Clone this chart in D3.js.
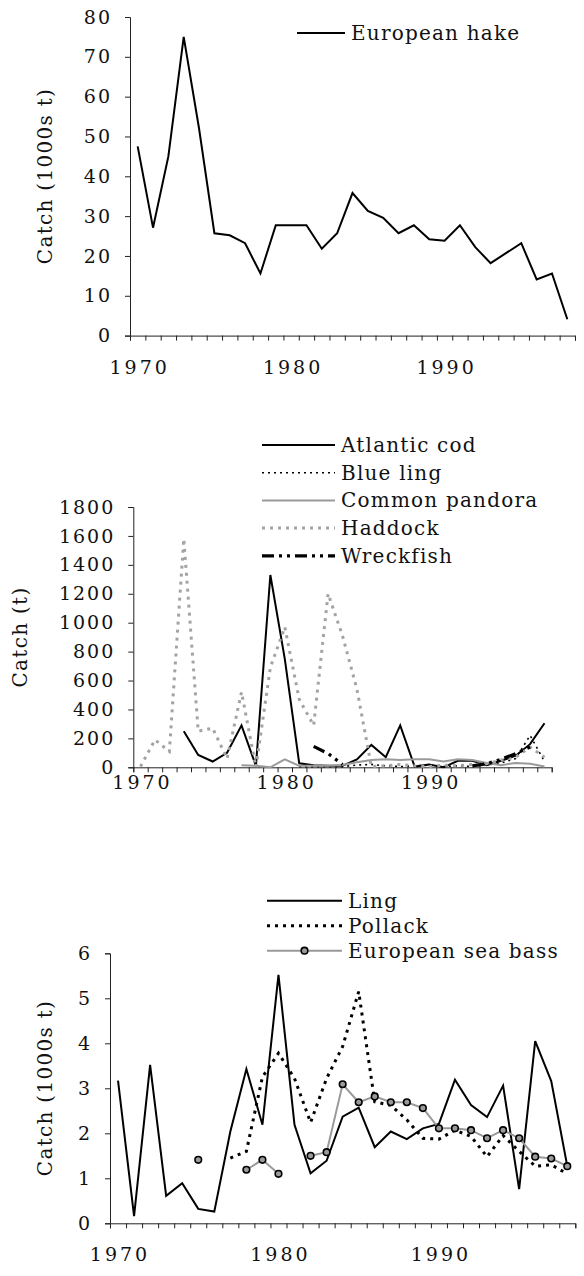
<!DOCTYPE html>
<html>
<head>
<meta charset="utf-8">
<script src="https://cdn.jsdelivr.net/npm/d3@7"></script>
<style>
  html, body { margin: 0; padding: 0; background: #fff; }
  svg text { font-family: "DejaVu Serif", "Liberation Serif", serif; fill: #111; }
</style>
</head>
<body>
<svg id="chart" width="584" height="1276"></svg>
<script>
// Years on the category axis
const years = [1970, 1971, 1972, 1973, 1974, 1975, 1976, 1977, 1978, 1979,
               1980, 1981, 1982, 1983, 1984, 1985, 1986, 1987, 1988, 1989,
               1990, 1991, 1992, 1993, 1994, 1995, 1996, 1997, 1998];
const yearLabels = [1970, 1980, 1990];

// Panel 1: catch in thousand tonnes
const hake = [47.5, 27.1, 45, 75, 52, 25.7, 25.2, 23.2, 15.6, 27.7, 27.7, 27.7, 21.8, 25.7, 35.8,
              31.3, 29.6, 25.7, 27.7, 24.2, 23.8, 27.7, 22.2, 18.2, 20.7, 23.2, 14.1, 15.6, 4.1];
const ticks1 = [0, 10, 20, 30, 40, 50, 60, 70, 80];

// Panel 2: catch in tonnes
const cod = [null, null, null, 250, 85, 40, 100, 290, 10, 1330, 750, 28, 15, 10, 10,
             55, 155, 70, 290, 5, 20, 0, 45, 45, 15, 45, 80, 160, 305];
const blueLing = [null, null, null, null, null, null, null, null, null, null, null, 5, 5, 5, 5,
                  15, 20, 10, 5, 10, 15, 5, 10, 5, 15, 30, 60, 220, 40];
const pandora = [null, null, null, null, null, null, null, 15, 10, 0, 55, 10, 10, 10, 16,
                 35, 50, 55, 50, 55, 55, 40, 55, 50, 30, 15, 30, 25, 5];
const haddock = [5, 190, 110, 1580, 250, 270, 60, 520, 0, 690, 970, 470, 290, 1200, 910,
                 540, 5, 10, 20, 10, 5, 15, 10, 20, 25, 50, 70, 140, 70];
const wreckfish = [null, null, null, null, null, null, null, null, null, null, null, null, 145, 95, 20,
                   null, null, null, null, null, null, null, null, 10, 25, 55, 95, 140, null];
const ticks2 = [0, 200, 400, 600, 800, 1000, 1200, 1400, 1600, 1800];

// Panel 3: catch in thousand tonnes
const ling = [3.17, 0.16, 3.52, 0.61, 0.89, 0.32, 0.26, 2.04, 3.43, 2.19, 5.52, 2.19, 1.11, 1.39, 2.37,
              2.57, 1.69, 2.04, 1.87, 2.11, 2.21, 3.19, 2.63, 2.36, 3.06, 0.76, 4.05, 3.16, 1.27];
const pollack = [null, null, null, null, null, null, null, 1.45, 1.6, 3.25, 3.78, 3.22, 2.24, 3.22, 3.93,
                 5.15, 2.7, 2.62, 2.3, 1.89, 1.87, 2.07, 1.93, 1.48, 1.95, 1.6, 1.27, 1.3, 1.1];
const seaBass = [null, null, null, null, null, 1.41, null, null, 1.19, 1.41, 1.10, null, 1.50, 1.58, 3.09,
                 2.69, 2.82, 2.69, 2.69, 2.56, 2.11, 2.11, 2.07, 1.89, 2.07, 1.89, 1.48, 1.44, 1.27];
const ticks3 = [0, 1, 2, 3, 4, 5, 6];

const GRAY = "#9a9a9a";
const svg = d3.select("#chart");

const styles = {
  solid:     { stroke: "#000", width: 2, dash: null },
  dotBlack:  { stroke: "#000", width: 1.6, dash: "2,4" },
  grayLine:  { stroke: GRAY, width: 2, dash: null },
  dotGray:   { stroke: "#a3a3a3", width: 3, dash: "3,5" },
  dashDot:   { stroke: "#000", width: 3.2, dash: "12,5,3,5,3,5" },
  dotThick:  { stroke: "#000", width: 3, dash: "3,5" }
};

function panel(cfg) {
  const g = svg.append("g");
  const x = d3.scaleBand().domain(years).range([cfg.x0, cfg.x1]).paddingInner(0).paddingOuter(0);
  const xEdge = d3.scaleLinear().domain([0, years.length]).range([cfg.x0, cfg.x1]);
  const y = d3.scaleLinear().domain([cfg.ticks[0], cfg.ticks[cfg.ticks.length - 1]]).range([cfg.yBottom, cfg.yTop]);
  const cx = yr => x(yr) + x.bandwidth() / 2;

  // y axis
  const yAxis = g.append("g").attr("transform", `translate(${cfg.x0},0)`)
    .call(d3.axisLeft(y).tickValues(cfg.ticks).tickSize(5).tickPadding(13).tickFormat(d3.format("d")));
  yAxis.select(".domain").attr("stroke", "#222").attr("stroke-width", 1);
  yAxis.selectAll(".tick line").attr("stroke", "#222");
  yAxis.selectAll(".tick text").style("font-size", "19px").style("letter-spacing", "2px")
    .style("font-family", '"DejaVu Serif", serif').attr("fill", "#111");

  // x axis: ticks sit between categories
  const xAxis = g.append("g").attr("transform", `translate(0,${cfg.yBottom})`)
    .call(d3.axisBottom(xEdge).tickValues(d3.range(0, years.length + 1)).tickSize(5).tickFormat(""));
  xAxis.select(".domain").attr("stroke", "#222").attr("stroke-width", 1);
  xAxis.selectAll(".tick line").attr("stroke", "#222");

  g.selectAll("text.xlab").data(yearLabels).join("text")
    .attr("class", "xlab")
    .attr("x", d => cx(d) + 2).attr("y", cfg.yBottom + cfg.xLabelGap)
    .attr("text-anchor", "middle")
    .style("font-size", "19px").style("letter-spacing", "3px")
    .text(d => d);

  // y title
  g.append("text")
    .attr("transform", `translate(${cfg.titleX},${cfg.titleY}) rotate(-90)`)
    .attr("text-anchor", "middle")
    .style("font-size", "20px").style("letter-spacing", "1.3px")
    .text(cfg.title);

  // series lines
  cfg.series.forEach(s => {
    const st = styles[s.style];
    const line = d3.line()
      .defined(d => d.v !== null)
      .x(d => cx(d.yr)).y(d => y(d.v));
    const pts = years.map((yr, i) => ({ yr, v: s.values[i] }));
    g.append("path").datum(pts)
      .attr("d", line)
      .attr("fill", "none")
      .attr("stroke", st.stroke)
      .attr("stroke-width", st.width)
      .attr("stroke-dasharray", st.dash)
      .attr("stroke-linejoin", "miter");
    if (s.marker) {
      g.selectAll(null).data(pts.filter(d => d.v !== null)).join("circle")
        .attr("cx", d => cx(d.yr)).attr("cy", d => y(d.v)).attr("r", 3.3)
        .attr("fill", GRAY).attr("stroke", "#000").attr("stroke-width", 1.6);
    }
  });

  // legend
  cfg.series.forEach((s, i) => {
    const st = styles[s.style];
    const ly = cfg.legend.y + i * cfg.legend.step;
    g.append("line")
      .attr("x1", cfg.legend.x1).attr("x2", cfg.legend.x2)
      .attr("y1", ly).attr("y2", ly)
      .attr("stroke", st.stroke).attr("stroke-width", st.width)
      .attr("stroke-dasharray", st.dash);
    if (s.marker) {
      g.append("circle").attr("cx", (cfg.legend.x1 + cfg.legend.x2) / 2).attr("cy", ly).attr("r", 3.3)
        .attr("fill", GRAY).attr("stroke", "#000").attr("stroke-width", 1.6);
    }
    g.append("text")
      .attr("x", cfg.legend.x2 + 6).attr("y", ly + 7)
      .style("font-size", "20px").style("letter-spacing", "1.2px")
      .text(s.name);
  });
}

panel({
  x0: 130, x1: 575, yTop: 17, yBottom: 335.6, ticks: ticks1,
  xLabelGap: 38, title: "Catch (1000s t)", titleX: 52, titleY: 176,
  series: [{ name: "European hake", values: hake, style: "solid" }],
  legend: { x1: 297, x2: 345, y: 33, step: 27 }
});

panel({
  x0: 133.3, x1: 551.7, yTop: 507, yBottom: 767.3, ticks: ticks2,
  xLabelGap: 22, title: "Catch (t)", titleX: 27, titleY: 637,
  series: [
    { name: "Atlantic cod", values: cod, style: "solid" },
    { name: "Blue ling", values: blueLing, style: "dotBlack" },
    { name: "Common pandora", values: pandora, style: "grayLine" },
    { name: "Haddock", values: haddock, style: "dotGray" },
    { name: "Wreckfish", values: wreckfish, style: "dashDot" }
  ],
  legend: { x1: 262, x2: 335, y: 445, step: 27.7 }
});

panel({
  x0: 110, x1: 575.3, yTop: 953.3, yBottom: 1223.3, ticks: ticks3,
  xLabelGap: 38, title: "Catch (1000s t)", titleX: 52, titleY: 1088,
  series: [
    { name: "Ling", values: ling, style: "solid" },
    { name: "Pollack", values: pollack, style: "dotThick" },
    { name: "European sea bass", values: seaBass, style: "grayLine", marker: true }
  ],
  legend: { x1: 267, x2: 342, y: 900.7, step: 25 }
});
</script>
</body>
</html>
